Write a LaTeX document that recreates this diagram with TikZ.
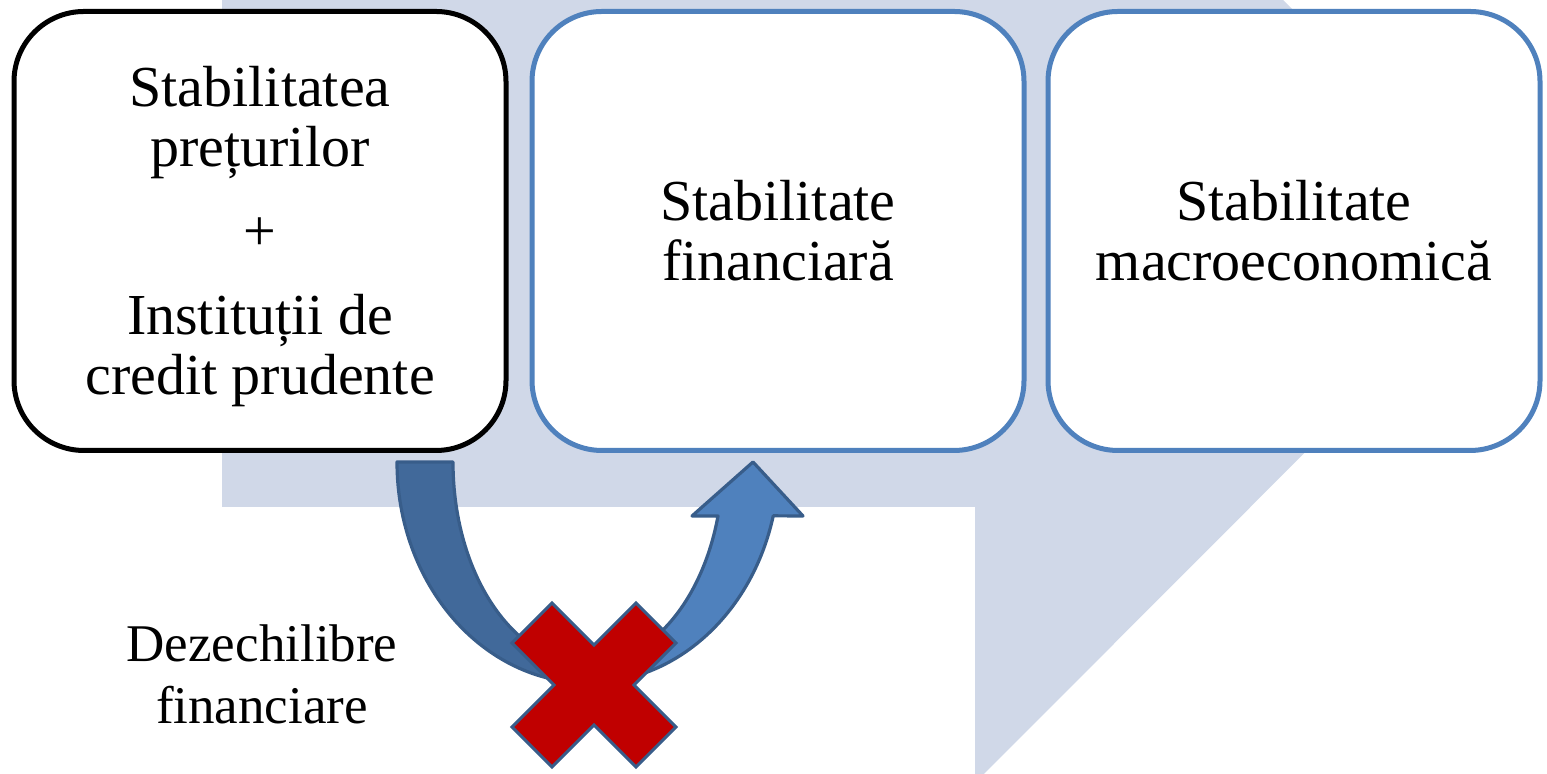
\documentclass[tikz,border=0pt]{standalone}
\usepackage{fontspec}
\setmainfont{Liberation Serif}
\definecolor{bgblue}{HTML}{D0D8E8}
\definecolor{boxblue}{HTML}{4F81BD}
\definecolor{arrowdark}{HTML}{41699A}
\definecolor{arrowlight}{HTML}{4F81BD}
\definecolor{arrowedge}{HTML}{385D8A}
\definecolor{crossred}{HTML}{C00000}
\newcommand\boxtextfont{\fontsize{29pt}{30pt}\selectfont}
\newcommand\labeltextfont{\fontsize{26.5pt}{31pt}\selectfont}
\begin{document}
\begin{tikzpicture}[x=0.5pt,y=0.5pt,
  stagebox/.style={draw, line width=2.5pt, rounded corners=35pt,
    minimum width=246pt, minimum height=219.5pt, inner sep=0pt,
    fill=white, align=center, font=\boxtextfont},
  arrowpart/.style={draw=arrowedge, line width=1.6pt, line join=round},
  crossmark/.style={fill=crossred, draw=arrowedge, line width=1.5pt, line join=miter}]
\useasboundingbox (0,0) rectangle (1547,774);

% wide background process arrow pointing right
\begin{scope}
  \clip (0,0) rectangle (1547,774);
  \fill[bgblue] (222,807) -- (975,807) -- (975,1082) -- (1520,537)
    -- (975,-9) -- (975,267) -- (222,267) -- cycle;
\end{scope}

% the three stages
\node[stagebox, draw=black] (price) at (260,543)
  {\rule{0pt}{26pt}Stabilitatea\\prețurilor\\[12pt]+\\[12pt]Instituții de\\credit prudente};
\node[stagebox, draw=boxblue] (fin) at (778,543) {Stabilitate\\financiară};
\node[stagebox, draw=boxblue] (macro) at (1294,543) {Stabilitate\\macroeconomică};

% curved up arrow: darker tail on the left, lighter front with head on the right
\coordinate (uc) at (588,312);
\fill[arrowdark, arrowpart] (397,312) -- (453,312)
  arc[start angle=180, end angle=270, x radius=135, y radius=202]
  -- (588,91)
  arc[start angle=270, end angle=180, x radius=191, y radius=221] -- cycle;
\fill[arrowlight, arrowpart] (588,91)
  arc[start angle=270, end angle=345.9, x radius=191, y radius=221]
  -- (803,258) -- (753,312) -- (692,258) -- (718,258)
  arc[start angle=344.5, end angle=270, x radius=135, y radius=202] -- cycle;

% red cross over the bottom of the arrow
\coordinate (xc) at (594,89);
\filldraw[crossmark, shift={(xc)}] (0,40) -- (42,82) -- (82,42) -- (40,0)
  -- (82,-42) -- (42,-82) -- (0,-40) -- (-42,-82) -- (-82,-42) -- (-40,0)
  -- (-82,42) -- (-42,82) -- cycle;

% label of the broken link
\node[font=\labeltextfont, align=center, inner sep=0pt] (imb) at (262,100)
  {Dezechilibre\\financiare};
\end{tikzpicture}
\end{document}
